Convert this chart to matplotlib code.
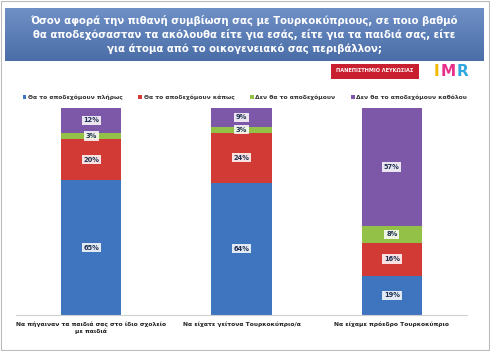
import numpy as np
import matplotlib.pyplot as plt
from matplotlib.patches import Rectangle
from matplotlib.colors import LinearSegmentedColormap

categories = ['Να πήγαιναν τα παιδιά σας στο ίδιο σχολείο\nμε παιδιά',
              'Να είχατε γείτονα Τουρκοκύπριο/α',
              'Να είχαμε πρόεδρο Τουρκοκύπριο']
series_names = ['Θα το αποδεχόμουν πλήρως', 'Θα το αποδεχόμουν κάπως',
                'Δεν θα το αποδεχόμουν', 'Δεν θα το αποδεχόμουν καθόλου']
full = [65, 64, 19]
somewhat = [20, 24, 16]
not_accept = [3, 3, 8]
not_at_all = [12, 9, 57]

title = ('Όσον αφορά την πιθανή συμβίωση σας με Τουρκοκύπριους, σε ποιο βαθμό\n'
         'θα αποδεχόσασταν τα ακόλουθα είτε για εσάς, είτε για τα παιδιά σας, είτε\n'
         'για άτομα από το οικογενειακό σας περιβάλλον;')

colors = ['#3F74BE', '#D23A36', '#93C047', '#7D58A8']

fig = plt.figure(figsize=(4.9, 3.51), dpi=100)
fig.patch.set_facecolor('white')

# outer frame
fig.add_artist(Rectangle((0.002, 0.003), 0.995, 0.994, transform=fig.transFigure,
                         fill=False, edgecolor='#BBBBBB', lw=0.8))

# title box with vertical gradient
tax = fig.add_axes([5/490, 1-61/351, 478/490, 53/351])
grad = np.linspace(0, 1, 64).reshape(-1, 1)
cm = LinearSegmentedColormap.from_list('tb', ['#6F90C6', '#4B6EA8'])
tax.imshow(grad, aspect='auto', cmap=cm, extent=[0, 1, 0, 1], origin='upper')
tax.set_axis_off()
tax.text(0.5, 0.5, title, ha='center', va='center', color='white',
         fontsize=7.3, fontweight='bold', linespacing=1.35, transform=tax.transAxes)

# logos
fig.text(375/490, 1-71/351, 'ΠΑΝΕΠΙΣΤΗΜΙΟ ΛΕΥΚΩΣΙΑΣ', ha='center', va='center',
         fontsize=3.6, fontweight='bold', color='white',
         bbox=dict(boxstyle='square,pad=1.0', fc='#C8202F', ec='none'))
fig.text(434/490, 1-72/351, 'I', ha='left', va='center', fontsize=11,
         fontweight='bold', color='#F5B800')
fig.text(441/490, 1-72/351, 'M', ha='left', va='center', fontsize=11,
         fontweight='bold', color='#E8308A')
fig.text(457/490, 1-72/351, 'R', ha='left', va='center', fontsize=11,
         fontweight='bold', color='#2FA8E0')

ax = fig.add_axes([16/490, 1-315/351, 451/490, 207/351])
x = np.arange(len(categories))
width = 0.4
bottom = np.zeros(len(categories))
for vals, col, name in zip([full, somewhat, not_accept, not_at_all], colors, series_names):
    vals = np.array(vals, dtype=float)
    ax.bar(x, vals, width, bottom=bottom, color=col, label=name, edgecolor='none')
    for xi, b, v in zip(x, bottom, vals):
        ax.text(xi, b + v / 2, f'{int(v)}%', ha='center', va='center', fontsize=4.8,
                fontweight='bold', color='#1F3050',
                bbox=dict(boxstyle='square,pad=0.25', fc='white', ec='none', alpha=0.85))
    bottom += vals

ax.set_xlim(-0.5, 2.5)
ax.set_ylim(0, 100)
for s in ['top', 'right', 'left']:
    ax.spines[s].set_visible(False)
ax.spines['bottom'].set_color('#D0D0D0')
ax.set_yticks([])
ax.set_xticks(x)
ax.set_xticklabels(categories, fontsize=4.3, fontweight='bold', color='#222222')
ax.tick_params(axis='x', length=0, pad=5)

leg = fig.legend(loc='center', bbox_to_anchor=(0.5, 1-97/351), ncol=4, frameon=False,
                 handlelength=0.6, handleheight=0.6, handletextpad=0.3,
                 columnspacing=2.6, prop={'size': 4.3, 'weight': 'bold'})
for t in leg.get_texts():
    t.set_color('#333333')

fig.savefig('out.png', dpi=100)
